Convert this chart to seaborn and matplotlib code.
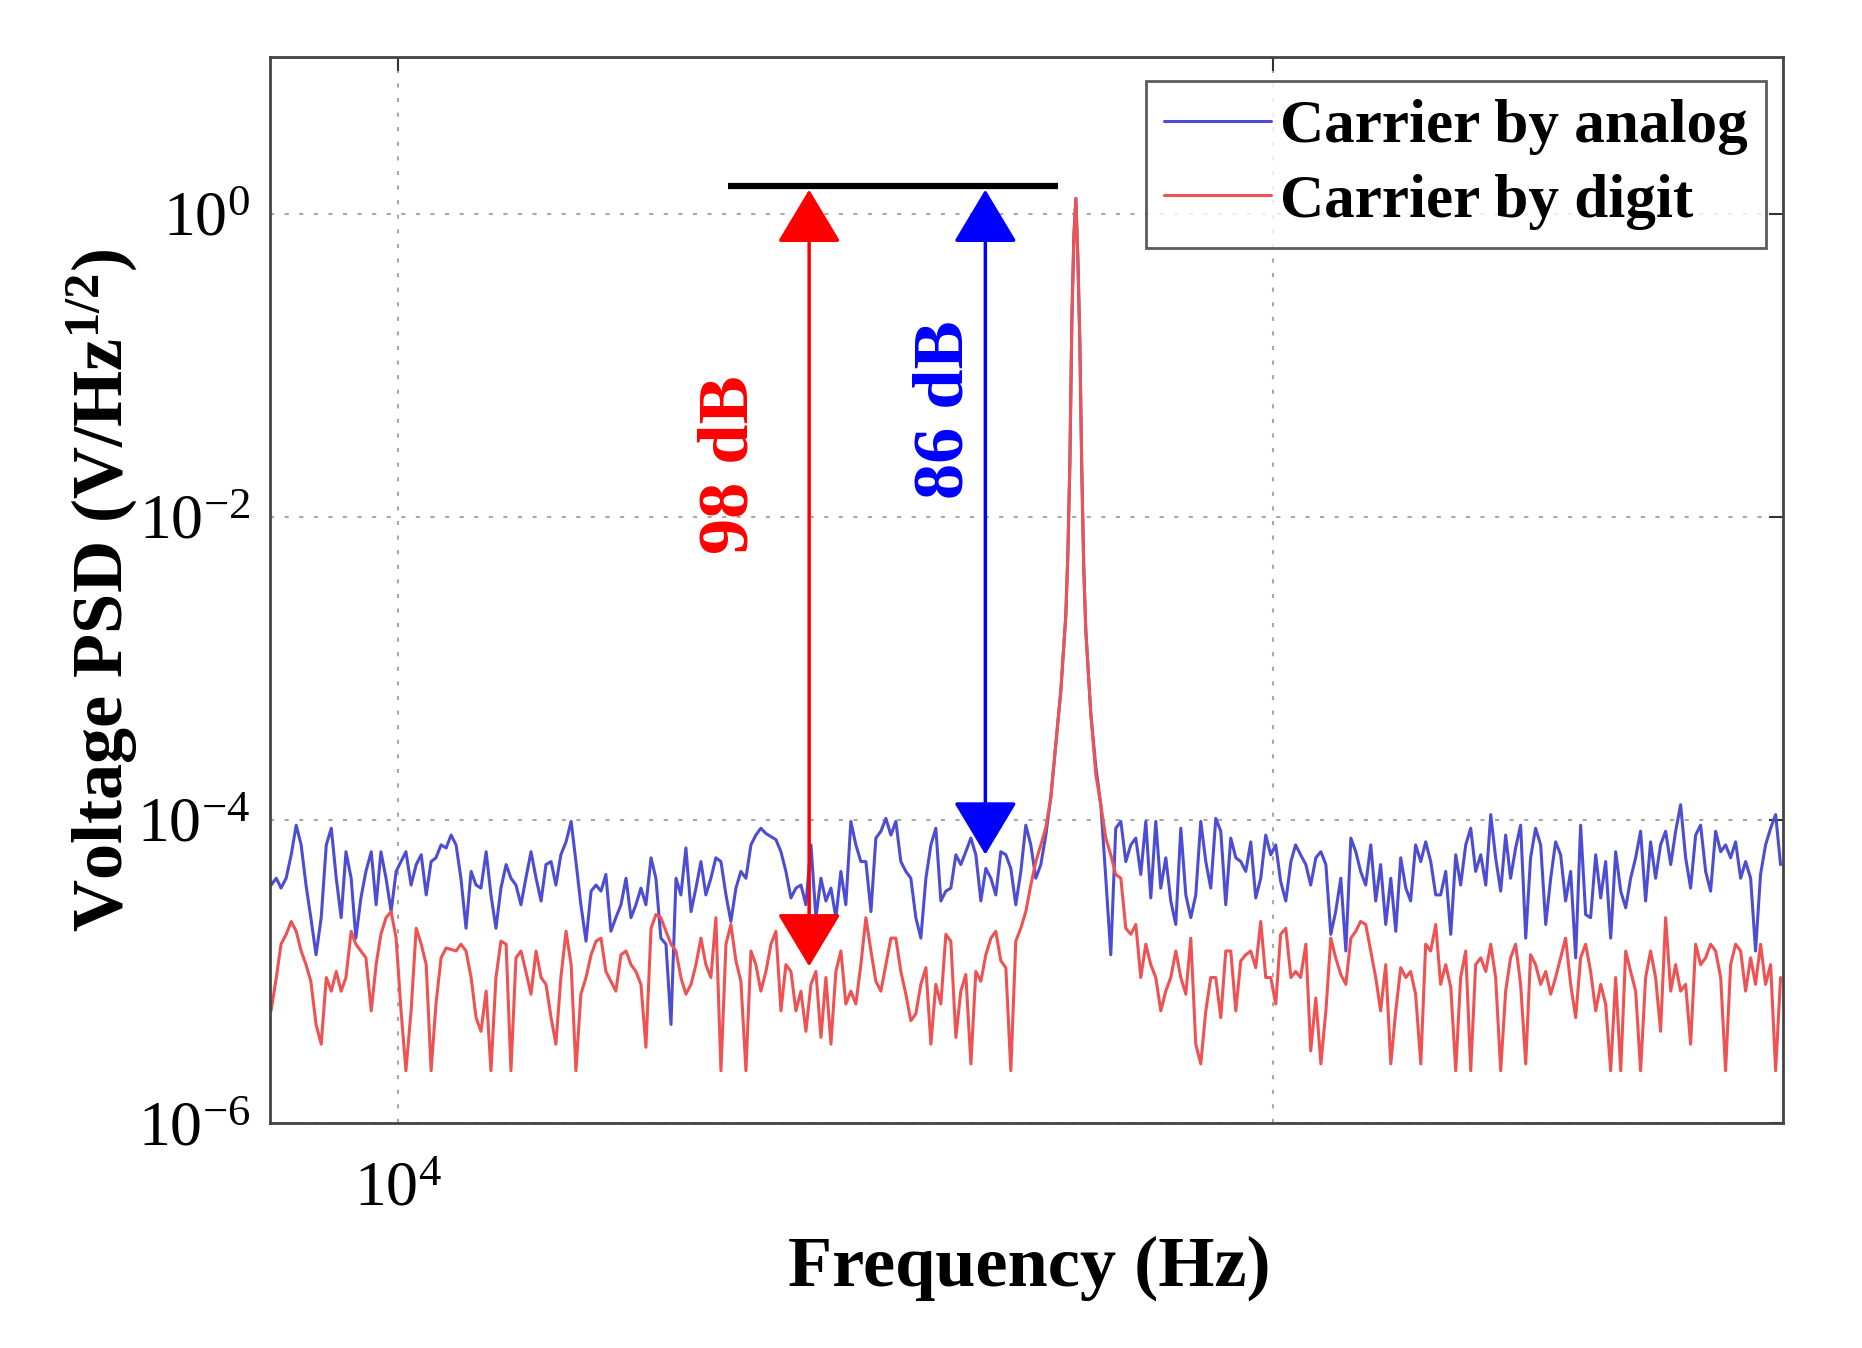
import numpy as np
import pandas as pd
import matplotlib
matplotlib.use('Agg')
import matplotlib.pyplot as plt
from matplotlib.ticker import NullLocator
import seaborn as sns

# frequency bins in kHz in stretches
freq_a = [7.16, 7.26, 7.35, 7.45, 7.55, 7.65, 7.75, 7.85, 7.95, 8.06,
          8.17, 8.28, 8.39, 8.50, 8.61, 8.72, 8.84, 8.95, 9.07, 9.19,
          9.32, 9.44, 9.56, 9.69, 9.82, 9.95, 10.08, 10.21, 10.35, 10.49,
          10.63, 10.77, 10.91, 11.05, 11.20, 11.35, 11.50, 11.65, 11.80, 11.96,
          12.12, 12.28, 12.44, 12.61, 12.77, 12.94, 13.11, 13.29, 13.46, 13.64,
          13.82, 14.00, 14.19, 14.38, 14.57, 14.76, 14.96, 15.15, 15.35, 15.56,
          15.77, 15.97, 16.18, 16.40, 16.62, 16.84, 17.06, 17.28, 17.51, 17.74,
          17.98, 18.22, 18.46, 18.70, 18.95, 19.20, 19.46, 19.71]
freq_b = [19.97, 20.24,
          20.51, 20.78, 21.05, 21.33, 21.62, 21.90, 22.19, 22.48, 22.78, 23.08,
          23.39, 23.70, 24.01, 24.33, 24.65, 24.98, 25.31, 25.64, 25.98, 26.33,
          26.68, 27.03, 27.39, 27.75, 28.12, 28.49, 28.87, 29.25, 29.64, 30.03,
          30.43, 30.83, 31.24, 31.65, 32.07, 32.49, 32.92, 33.36, 33.80, 34.25,
          34.71, 35.16, 35.63, 36.10, 36.58, 37.06, 37.55, 38.05, 38.55, 39.06,
          39.58, 40.11, 40.64, 41.17, 41.72, 42.27, 42.83, 43.40, 43.97, 44.55,
          45.15, 45.74, 46.35, 46.96, 47.59, 48.21, 48.85, 49.50, 50.15, 50.81,
          51.49, 52.17, 52.86, 53.56, 54.27]
freq_peak = [54.99, 55.72, 56.45, 57.20, 57.96, 58.27, 58.58, 58.89, 59.20,
             59.51, 59.83, 60.14, 60.45, 60.77, 61.09, 61.90, 62.72]
freq_c = [63.55, 64.39, 65.24, 66.10,
          66.99, 67.87, 68.77, 69.68, 70.60, 71.54, 72.48, 73.44, 74.41, 75.40,
          76.40, 77.41, 78.44, 79.48, 80.53, 81.59, 82.67, 83.77, 84.87, 86.00,
          87.14, 88.29, 89.46, 90.65, 91.85, 93.06, 94.29, 95.54, 96.80, 98.08,
          99.39, 100.7, 102.0, 103.4, 104.8, 106.1, 107.5, 109.0, 110.4, 111.9,
          113.4, 114.9, 116.4, 117.9, 119.5, 121.1, 122.7, 124.3, 125.9, 127.6,
          129.3, 131.0, 132.7, 134.5, 136.3, 138.1, 139.9, 141.8, 143.6, 145.5,
          147.5, 149.4, 151.4, 153.4]
freq_d = [155.4, 157.5, 159.6, 161.7, 163.8, 166.0,
          168.2, 170.4, 172.7, 175.0, 177.3, 179.6, 182.0, 184.4, 186.8, 189.3,
          191.8, 194.4, 196.9, 199.5, 202.2, 204.9, 207.6, 210.3, 213.1, 215.9,
          218.8, 221.7, 224.6, 227.6, 230.6, 233.7, 236.8, 239.9, 243.1, 246.3,
          249.6, 252.9, 256.2, 259.6, 263.0, 266.5, 270.0, 273.6, 277.2, 280.9,
          284.7, 288.4, 292.2, 296.1, 300.0, 304.0, 308.0, 312.1, 316.2, 320.4,
          324.7, 328.9, 333.3, 337.7, 342.2, 346.7, 351.3, 355.9, 360.6, 365.4,
          370.3, 375.2, 380.1]

# PSD levels in dB re 1 V/Hz^1/2
analog_a = [-88.6, -87.7, -89.0, -87.7, -84.6, -80.7, -83.3, -88.6, -92.9, -97.8,
            -92.9, -83.3, -81.1, -87.7, -92.9, -84.2, -87.7, -95.6, -90.3, -86.8,
            -84.2, -91.2, -84.2, -87.7, -92.1, -86.8, -85.5, -84.2, -88.6, -85.9,
            -84.6, -89.9, -85.5, -85.0, -83.3, -83.7, -82.0, -83.3, -87.7, -94.3,
            -86.8, -88.6, -89.0, -84.2, -89.9, -94.3, -89.0, -85.9, -87.7, -88.6,
            -91.2, -87.7, -84.2, -87.7, -90.7, -85.9, -85.5, -88.6, -84.6, -82.9,
            -80.2, -85.5, -91.2, -96.0, -89.4, -88.6, -89.4, -87.2, -94.7, -92.9,
            -91.2, -87.7, -92.9, -91.2, -89.0, -91.2, -85.0, -87.7]
digit_a = [-105.2, -100.8, -96.4, -95.1, -93.4, -94.7, -97.3, -99.1, -101.3, -107.0,
           -109.6, -100.8, -102.6, -100.0, -102.6, -100.8, -94.7, -96.4, -97.3, -98.2,
           -105.2, -99.1, -95.1, -92.9, -92.1, -95.6, -105.2, -113.1, -105.2, -94.3,
           -96.4, -99.1, -113.1, -104.3, -98.2, -96.9, -97.1, -97.3, -96.4, -97.3,
           -100.8, -106.1, -107.9, -102.6, -113.1, -100.8, -96.0, -96.4, -113.1, -98.2,
           -97.3, -100.0, -103.0, -97.3, -100.8, -101.7, -106.1, -109.6, -100.8, -94.7,
           -99.1, -113.1, -103.0, -100.8, -97.8, -96.0, -95.6, -100.0, -101.3, -102.6,
           -97.8, -97.3, -99.1, -100.0, -101.7, -110.0, -94.3, -92.5]
analog_b = [-95.6, -96.4, -107.0, -87.7, -89.9, -83.7, -92.1, -89.0, -85.5, -89.9,
            -87.7, -85.0, -85.5, -89.9, -93.4, -89.0, -86.8, -87.7, -83.3, -82.0,
            -81.1, -81.8, -82.2, -82.6, -84.2, -86.8, -90.3, -89.0, -88.6, -91.2,
            -83.3, -92.9, -87.7, -90.7, -89.0, -92.9, -86.8, -91.2, -80.2, -83.3,
            -85.5, -85.5, -92.1, -82.4, -81.5, -79.8, -82.0, -80.2, -85.5, -86.8,
            -87.7, -92.9, -95.6, -87.7, -83.3, -81.1, -90.7, -89.4, -89.0, -84.6,
            -85.9, -84.2, -82.4, -84.6, -90.7, -86.4, -87.7, -89.9, -84.2, -84.6,
            -86.4, -91.2, -86.8, -80.7, -83.3, -87.7, -85.9]
digit_b = [-92.9, -94.7, -96.4, -97.3, -100.8, -103.0, -101.7, -99.1, -95.6, -99.1,
           -100.8, -92.9, -113.1, -96.4, -93.8, -98.6, -101.3, -113.1, -97.3, -99.1,
           -102.6, -100.0, -96.4, -94.7, -105.2, -99.1, -100.0, -105.2, -102.6, -107.9,
           -101.7, -100.0, -108.7, -100.8, -109.6, -100.0, -97.3, -104.3, -102.6, -104.3,
           -99.1, -92.9, -97.3, -101.3, -102.6, -99.1, -95.6, -95.6, -100.0, -103.0,
           -106.5, -105.6, -101.7, -99.5, -109.6, -101.7, -104.3, -95.1, -96.0, -108.7,
           -102.6, -100.4, -112.2, -100.0, -101.3, -97.8, -95.6, -94.7, -98.6, -99.5,
           -113.1, -96.0, -94.3, -92.1, -88.6, -85.5, -83.3]
analog_peak = [-82, -77, -70, -63, -53, -45, -33, -14, -3, 2, -6, -17, -34, -47, -55, -66, -73]
digit_peak = [-81, -77, -70, -63, -53, -45, -33, -14, -3, 2, -6, -17, -34, -47, -55, -66, -74]
analog_c = [-78.0, -87.7, -97.8, -81.1, -80.2, -85.5, -83.3, -82.4, -87.2, -80.2,
            -90.3, -80.2, -89.0, -85.0, -90.7, -93.8, -81.1, -89.9, -92.9, -89.9,
            -80.2, -85.5, -89.0, -79.8, -81.5, -91.2, -82.4, -85.0, -85.5, -86.8,
            -82.9, -90.3, -87.7, -82.0, -84.6, -83.3, -88.1, -90.7, -85.5, -83.3,
            -84.6, -85.9, -88.6, -85.0, -84.2, -85.9, -95.1, -92.1, -87.7, -97.3,
            -82.4, -84.2, -86.8, -88.6, -83.3, -90.7, -85.9, -93.8, -87.7, -94.7,
            -85.0, -89.0, -90.7, -83.3, -85.5, -82.9, -85.5, -89.9]
digit_c = [-78.0, -82.4, -84.6, -87.2, -87.7, -94.3, -95.1, -93.8, -100.8, -96.4,
           -99.1, -100.8, -105.2, -102.6, -100.8, -97.3, -100.8, -103.0, -95.6, -109.6,
           -112.2, -105.2, -100.8, -100.8, -106.1, -97.3, -97.3, -105.2, -98.6, -97.8,
           -97.3, -99.5, -93.4, -100.8, -100.8, -104.3, -95.1, -94.3, -100.8, -100.0,
           -100.8, -96.4, -110.5, -103.5, -112.2, -105.2, -95.6, -98.2, -100.4, -101.7,
           -95.6, -94.7, -93.4, -93.8, -97.3, -100.8, -105.2, -99.1, -112.2, -105.2,
           -99.5, -100.8, -100.0, -103.0, -112.2, -96.4, -97.3, -93.8]
analog_d = [-89.9, -86.8, -95.1, -84.6, -88.6, -83.3, -81.1, -86.8, -84.6, -88.6,
            -79.3, -85.0, -89.4, -82.0, -87.7, -83.7, -80.7, -95.6, -85.0, -81.1,
            -83.3, -93.8, -87.7, -82.9, -84.6, -90.7, -86.8, -98.2, -80.7, -92.5,
            -92.9, -84.6, -90.3, -85.5, -95.6, -84.2, -89.4, -91.6, -87.7, -85.0,
            -81.5, -90.7, -82.9, -87.7, -83.3, -81.5, -85.9, -81.5, -78.0, -85.0,
            -89.0, -82.0, -80.7, -86.8, -89.4, -81.5, -84.2, -83.3, -85.0, -82.9,
            -87.7, -85.5, -87.7, -97.3, -87.2, -83.3, -81.1, -79.3, -85.9]
digit_d = [-101.7, -99.1, -102.1, -113.1, -100.8, -97.3, -113.1, -99.1, -98.2, -100.0,
           -96.4, -100.8, -113.1, -102.6, -98.2, -96.4, -101.7, -112.2, -97.8, -99.1,
           -101.7, -100.0, -103.0, -100.8, -98.2, -95.6, -101.7, -106.1, -98.2, -96.4,
           -100.0, -105.2, -101.7, -104.3, -113.1, -100.8, -113.1, -97.3, -100.0, -102.6,
           -113.1, -100.8, -97.3, -100.8, -107.9, -92.9, -102.6, -99.1, -102.6, -101.7,
           -109.6, -96.4, -99.1, -98.2, -96.4, -97.3, -100.8, -113.1, -99.1, -96.4,
           -97.3, -102.6, -98.2, -101.7, -96.4, -101.7, -99.1, -113.1, -100.8]

# annotation: reference level and the two arrows (kHz, V/Hz^1/2)
ref_line_khz = [23.8, 56.8]
ref_level = 1.53
digit_arrow = [29.5, 1.44, 1.08e-5]
analog_arrow = [46.9, 1.44, 5.9e-5]
digit_note = [23.95, 0.0221, '98 dB']
analog_note = [42.2, 0.0509, '86 dB']

freq_hz = np.array(freq_a + freq_b + freq_peak + freq_c + freq_d) * 1e3
analog_db = np.array(analog_a + analog_b + analog_peak + analog_c + analog_d)
digit_db = np.array(digit_a + digit_b + digit_peak + digit_c + digit_d)
spectra = pd.DataFrame({'freq': freq_hz,
                        'analog': 10 ** (analog_db / 20),
                        'digit': 10 ** (digit_db / 20)})

sns.set_theme(style='white')
plt.rcParams['font.family'] = ['Liberation Serif', 'DejaVu Serif']
plt.rcParams['mathtext.fontset'] = 'custom'
plt.rcParams['mathtext.rm'] = 'Liberation Serif'
plt.rcParams['mathtext.bf'] = 'Liberation Serif:bold'
plt.rcParams['mathtext.it'] = 'Liberation Serif:italic'
plt.rcParams['text.color'] = 'black'
plt.rcParams['axes.labelcolor'] = 'black'

fig, ax = plt.subplots(figsize=(18.62, 13.48), dpi=100)
fig.subplots_adjust(left=0.145, right=0.9576, bottom=0.1669, top=0.9577)
ax.set_xscale('log')
ax.set_yscale('log')

sns.lineplot(data=spectra, x='freq', y='analog', ax=ax, color='#4d4dd4', lw=2.2,
             sort=False, estimator=None, label='Carrier by analog')
sns.lineplot(data=spectra, x='freq', y='digit', ax=ax, color='#ef5252', lw=2.2,
             sort=False, estimator=None, label='Carrier by digit')

ax.hlines(ref_level, ref_line_khz[0] * 1e3, ref_line_khz[1] * 1e3, color='black', lw=4.5)
for arrow, col in [(digit_arrow, 'red'), (analog_arrow, 'blue')]:
    ax.annotate('', xy=(arrow[0] * 1e3, arrow[1]), xytext=(arrow[0] * 1e3, arrow[2]),
                arrowprops=dict(arrowstyle='<|-|>,head_length=1.0,head_width=0.6',
                                mutation_scale=34, color=col, lw=2.5,
                                shrinkA=0, shrinkB=0))
for note, col in [(digit_note, 'red'), (analog_note, 'blue')]:
    ax.text(note[0] * 1e3, note[1], note[2], rotation=90, color=col, fontsize=52,
            fontweight='bold', ha='center', va='center')

ax.set_xlim(7140, 382600)
ax.set_ylim(1e-6, 10.8)
ax.set_xticks([1e4, 1e5])
ax.set_xticklabels(['$10^{4}$', ''])
ax.set_yticks([1e-6, 1e-4, 1e-2, 1])
ax.set_yticklabels(['$10^{-6}$', '$10^{-4}$', '$10^{-2}$', '$10^{0}$'])
ax.xaxis.set_minor_locator(NullLocator())
ax.yaxis.set_minor_locator(NullLocator())
ax.tick_params(which='major', direction='in', length=10, width=1.5, top=True,
               right=True, labelsize=46, colors='#333333', labelcolor='black')
ax.tick_params(axis='x', pad=28)
ax.tick_params(axis='y', pad=14)
ax.grid(True, which='major', color='#a8a8a8', linestyle=(0, (2, 5)), lw=1.5)
for spine in ax.spines.values():
    spine.set_linewidth(2)
    spine.set_color('#444444')

ax.set_xlabel('Frequency (Hz)', fontsize=52, fontweight='bold')
ax.xaxis.set_label_coords(0.502, -0.106)
ax.set_ylabel(r'Voltage PSD (V/Hz$^{\mathbf{1/2}}$)', fontsize=52, fontweight='bold')
ax.yaxis.set_label_coords(-0.086, 0.5)

leg = ax.legend(loc='upper right', bbox_to_anchor=(0.989, 0.9775), borderaxespad=0,
                frameon=True, fancybox=False, edgecolor='#333333',
                prop=dict(family='Liberation Serif', weight='bold', size=44),
                handlelength=1.75, handletextpad=0.15, borderpad=0.3, labelspacing=0.3)
leg.get_frame().set_linewidth(2)

fig.savefig('out.png', dpi=100)
